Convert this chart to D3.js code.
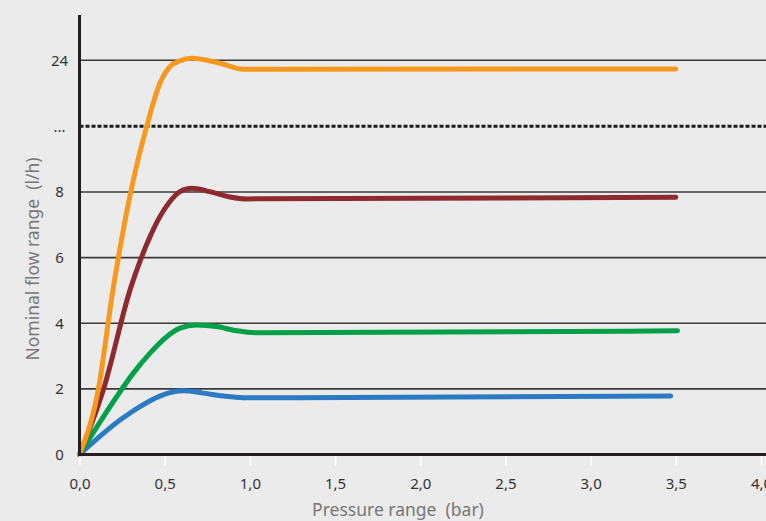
<!DOCTYPE html>
<html>
<head>
<meta charset="utf-8">
<script src="https://cdn.jsdelivr.net/npm/d3@7"></script>
<style>
  html, body { margin: 0; padding: 0; background: #ebebeb; }
  svg { display: block; font-family: "Noto Sans", sans-serif; }
</style>
</head>
<body>
<svg id="chart"></svg>
<script>
// pressure (bar) on x, nominal flow (l/h) on y
const xTicks = [0, 0.5, 1, 1.5, 2, 2.5, 3, 3.5, 4];
const yTicks = [0, 2, 4, 6, 8, 16, 24];
const yTickLabels = ['0', '2', '4', '6', '8', '...', '24'];

const bluePressure = [0, 0.238, 0.355, 0.472, 0.609, 0.727, 0.844, 0.961, 3.47];
const blueFlow     = [0, 1.05, 1.46, 1.78, 1.94, 1.87, 1.78, 1.73, 1.78];

const greenPressure = [0, 0.14, 0.218, 0.316, 0.414, 0.512, 0.59, 0.688, 0.805, 0.923, 1.04, 3.51];
const greenFlow     = [0, 1.15, 1.76, 2.48, 3.09, 3.59, 3.85, 3.95, 3.90, 3.77, 3.71, 3.77];

const redPressure = [0, 0.14, 0.30, 0.358, 0.414, 0.472, 0.531, 0.59, 0.658, 0.766, 0.883, 0.981, 3.5];
const redFlow     = [0, 1.97, 5.07, 5.93, 6.64, 7.25, 7.71, 8.04, 8.45, 8.04, 7.85, 7.79, 7.84];

const orangePressure = [0, 0.11, 0.198, 0.316, 0.394, 0.472, 0.531, 0.59, 0.658, 0.825, 0.962, 3.5];
const orangeFlow     = [0, 1.97, 5.07, 9.46, 15.94, 21.21, 23.23, 23.95, 24.24, 23.64, 22.91, 22.95];

const series = [
    {name: 'blue', color: '#2a7bc3', x: bluePressure, y: blueFlow},
    {name: 'green', color: '#03a04a', x: greenPressure, y: greenFlow},
    {name: 'red', color: '#8e2a2e', x: redPressure, y: redFlow},
    {name: 'orange', color: '#f8981d', x: orangePressure, y: orangeFlow},
];

const fullWidth = 766;
const fullHeight = 521;

const svg = d3.select('#chart')
    .attr('width', fullWidth)
    .attr('height', fullHeight);

svg.append('rect')
    .attr('width', fullWidth)
    .attr('height', fullHeight)
    .attr('fill', '#ebebeb');

const x = d3.scaleLinear()
    .domain([0, 4])
    .range([79.5, 761]);

// the axis is broken above 8: one step stands for 8 l/h instead of 2
const y = d3.scaleLinear()
    .domain([0, 8, 16, 24])
    .range([454.5, 192, 126.2, 60.3]);

// gridlines
const grid = svg.append('g').attr('class', 'grid');

grid.selectAll('line')
    .data(yTicks.filter(d => d > 0))
    .enter().append('line')
        .attr('x1', x(0))
        .attr('x2', fullWidth)
        .attr('y1', d => y(d))
        .attr('y2', d => y(d))
        .attr('stroke', d => d === 16 ? '#1c1a1b' : '#3a3a3a')
        .attr('stroke-width', d => d === 16 ? 3 : 1.6)
        .attr('stroke-dasharray', d => d === 16 ? '4,2' : null);

// curves
const line = d3.line()
    .x(d => x(d[0]))
    .y(d => y(d[1]))
    .curve(d3.curveMonotoneX);

svg.append('g').attr('class', 'curves')
    .selectAll('path')
    .data(series)
    .enter().append('path')
        .attr('d', s => line(s.x.map((p, i) => [p, s.y[i]])))
        .attr('fill', 'none')
        .attr('stroke', s => s.color)
        .attr('stroke-width', 5)
        .attr('stroke-linecap', 'round')
        .attr('stroke-linejoin', 'round');

// x axis
const xAxis = svg.append('g')
    .attr('transform', `translate(0, ${y(0)})`)
    .call(d3.axisBottom(x)
        .tickValues(xTicks)
        .tickFormat(d => d3.format('.1f')(d).replace('.', ','))
        .tickSize(11)
        .tickPadding(13));

xAxis.select('.domain').remove();
xAxis.selectAll('.tick line')
    .attr('stroke', '#ffffff')
    .attr('stroke-width', 1.5);
xAxis.selectAll('.tick text')
    .attr('fill', '#333333')
    .style('font-size', '15px')
    .style('font-family', '"Noto Sans", sans-serif');

svg.append('line')
    .attr('x1', x(0) - 1.5)
    .attr('x2', fullWidth)
    .attr('y1', y(0))
    .attr('y2', y(0))
    .attr('stroke', '#231f20')
    .attr('stroke-width', 3);

// y axis, labels centred in the left margin
const yAxis = svg.append('g')
    .attr('transform', `translate(${x(0)}, 0)`)
    .call(d3.axisLeft(y)
        .tickValues(yTicks)
        .tickFormat((d, i) => yTickLabels[i])
        .tickSize(0)
        .tickPadding(20));

yAxis.select('.domain').remove();
yAxis.selectAll('.tick text')
    .attr('text-anchor', 'middle')
    .attr('fill', '#333333')
    .style('font-size', '15px')
    .style('font-family', '"Noto Sans", sans-serif');

svg.append('line')
    .attr('x1', x(0))
    .attr('x2', x(0))
    .attr('y1', 15)
    .attr('y2', y(0) + 1.5)
    .attr('stroke', '#231f20')
    .attr('stroke-width', 3);

// axis titles
svg.append('text')
    .attr('x', 398)
    .attr('y', 516)
    .attr('text-anchor', 'middle')
    .attr('fill', '#777777')
    .style('font-size', '17.5px')
    .style('white-space', 'pre')
    .text('Pressure range  (bar)');

svg.append('text')
    .attr('transform', 'translate(32, 259) rotate(-90)')
    .attr('text-anchor', 'middle')
    .attr('dominant-baseline', 'central')
    .attr('fill', '#777777')
    .style('font-size', '17.5px')
    .style('white-space', 'pre')
    .text('Nominal flow range  (l/h)');
</script>
</body>
</html>
